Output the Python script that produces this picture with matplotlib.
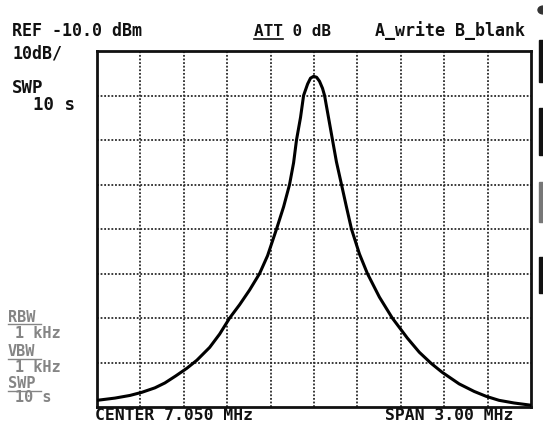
import matplotlib.pyplot as plt
from matplotlib.patches import Rectangle, Circle

# trace: frequency (MHz) and level (dBm)
freq_mhz = [5.550, 5.674, 5.778, 5.860, 5.950, 6.019, 6.095, 6.171, 6.240,
            6.329, 6.398, 6.467, 6.536, 6.605, 6.674, 6.729, 6.791, 6.840,
            6.881, 6.909, 6.929, 6.957, 6.978, 7.006, 7.026, 7.047, 7.068,
            7.088, 7.109, 7.123, 7.150, 7.178, 7.205, 7.240, 7.274, 7.309,
            7.364, 7.419, 7.502, 7.591, 7.695, 7.778, 7.860, 7.936, 8.053,
            8.157, 8.240, 8.329, 8.433, 8.550]
level_dbm = [-88.5, -88.0, -87.4, -86.7, -85.7, -84.6, -83.0, -81.3, -79.5,
             -76.6, -73.6, -70.0, -67.0, -63.7, -60.0, -56.0, -50.0, -45.0,
             -40.0, -35.1, -30.0, -24.9, -20.0, -17.4, -16.1, -15.7, -15.9,
             -16.8, -18.4, -20.0, -24.9, -30.0, -34.9, -40.0, -45.0, -50.0,
             -55.6, -60.0, -65.3, -70.0, -74.5, -77.7, -80.2, -82.2, -84.8,
             -86.5, -87.6, -88.5, -89.1, -89.6]

center_mhz = 7.050
span_mhz = 3.00
ref_dbm = -10.0
db_per_div = 10
n_xdiv = 10
n_ydiv = 8

header_left = ['REF -10.0 dBm', '10dB/']
side_info = ['RBW', '1 kHz', 'VBW', '1 kHz', 'SWP', '10 s']

W, H = 543, 426
fig = plt.figure(figsize=(W / 100, H / 100), dpi=100)
fig.patch.set_facecolor('white')

ax = fig.add_axes([97 / W, 1 - 407 / H, 434 / W, 356 / H])
x0 = center_mhz - span_mhz / 2
x1 = center_mhz + span_mhz / 2
y0 = ref_dbm - n_ydiv * db_per_div
ax.set_xlim(x0, x1)
ax.set_ylim(y0, ref_dbm)
for i in range(1, n_xdiv):
    ax.axvline(x0 + i * span_mhz / n_xdiv, color='#2a2a2a', lw=1.3,
               ls=(0, (1, 1)), zorder=1)
for j in range(1, n_ydiv):
    ax.axhline(y0 + j * db_per_div, color='#2a2a2a', lw=1.3,
               ls=(0, (1, 1)), zorder=1)
ax.plot(freq_mhz, level_dbm, color='black', lw=2.2, zorder=3,
        solid_joinstyle='round')
ax.set_xticks([])
ax.set_yticks([])
for s in ax.spines.values():
    s.set_linewidth(2)
    s.set_color('#111111')

font = dict(family='DejaVu Sans Mono', weight='bold', color='#111111')

def put(x, y, s, size=11.8, **kw):
    opts = dict(font)
    opts.update(kw)
    fig.text(x / W, 1 - y / H, s, fontsize=size, va='center', **opts)

put(12, 31, header_left[0], size=12)
put(12, 53, header_left[1], size=12)
put(254, 31, 'ATT 0 dB', size=11.5)
fig.add_artist(plt.Line2D([254 / W, 283 / W], [1 - 39 / H, 1 - 39 / H],
                          color='#111111', lw=1.2))
put(375, 31, 'A_write B_blank', size=12)
put(12, 88, 'SWP', size=12.5)
put(33, 105, '10 s', size=12.5)

put(95, 416, 'CENTER 7.050 MHz')
put(385, 416, 'SPAN 3.00 MHz')

# grey settings block on the left
ys = [317, 333, 352, 368, 384, 398]
xs = [8, 15, 8, 15, 8, 15]
for k, (s, xx, yy) in enumerate(zip(side_info, xs, ys)):
    put(xx, yy, s, size=11, color='#858585')
    if k % 2 == 0:
        fig.add_artist(plt.Line2D([xx / W, (xx + 33) / W],
                                  [1 - (yy + 7) / H, 1 - (yy + 7) / H],
                                  color='#858585', lw=1))

# cut-off softkey marks on the right edge
for top, bot, c in [(40, 82, '#111111'), (108, 155, '#111111'),
                    (182, 222, '#777777'), (257, 293, '#111111')]:
    fig.add_artist(Rectangle((539 / W, 1 - bot / H), 6 / W, (bot - top) / H,
                             color=c, transform=fig.transFigure))
fig.add_artist(Circle((543 / W, 1 - 10 / H), 5 / W, color='#333333',
                      transform=fig.transFigure))

fig.savefig('out.png', dpi=100, facecolor='white')
